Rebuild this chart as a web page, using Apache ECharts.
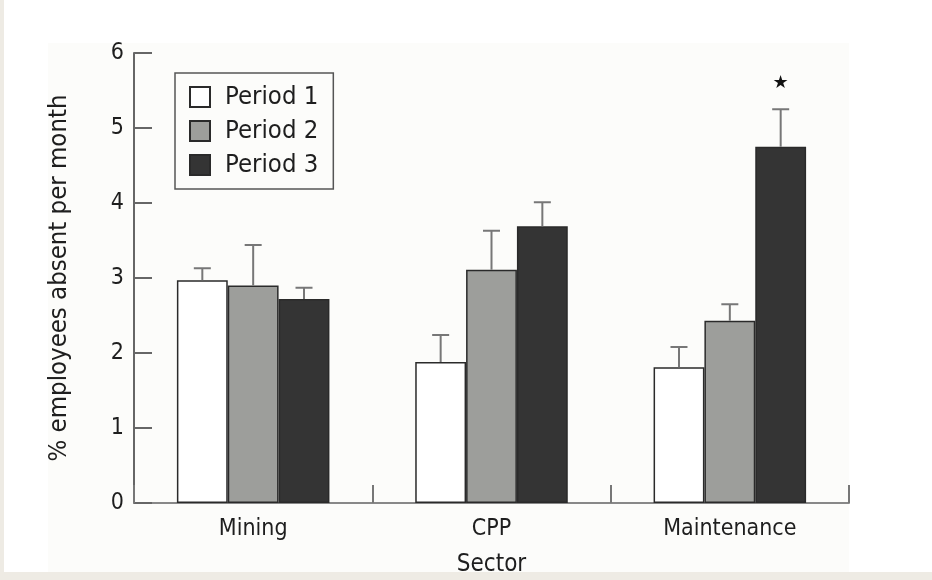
<!DOCTYPE html>
<html>
<head>
<meta charset="utf-8">
<script src="https://cdn.jsdelivr.net/npm/echarts@6/dist/echarts.min.js"></script>
<style>
html,body{margin:0;padding:0;background:#ffffff;}
#chart{width:932px;height:580px;}
</style>
</head>
<body>
<div id="chart"></div>
<script>
// ---- data ----
const categories = ['Mining', 'CPP', 'Maintenance'];
const seriesNames = ['Period 1', 'Period 2', 'Period 3'];
const period1 = [2.97, 1.88, 1.81];
const period2 = [2.90, 3.11, 2.43];
const period3 = [2.72, 3.69, 4.75];
// upper error bar lengths (SE)
const err1 = [0.16, 0.36, 0.27];
const err2 = [0.54, 0.52, 0.22];
const err3 = [0.15, 0.32, 0.50];
// significance markers (Period 3)
const sig3 = ['', '', '★'];
const yTicks = [0, 1, 2, 3, 4, 5, 6];

const FONT = '"DejaVu Sans Condensed", "DejaVu Sans", sans-serif';
const CAT_GAP = 0.36;

const values = [period1, period2, period3];
const errs = [err1, err2, err3];
const sigs = [['', '', ''], ['', '', ''], sig3];

const errData = [];
for (let k = 0; k < 3; k++) {
  for (let i = 0; i < categories.length; i++) {
    errData.push([i, values[k][i], errs[k][i], k, sigs[k][i]]);
  }
}

const barColors = ['#ffffff', '#9d9e9b', '#343434'];

const chart = echarts.init(document.getElementById('chart'), null, {renderer: 'canvas'});

const option = {
  backgroundColor: '#ffffff',
  animation: false,
  graphic: [
    {type: 'rect', z: -10, silent: true, shape: {x: 48, y: 43, width: 801, height: 529}, style: {fill: '#fcfcfa'}},
    {type: 'rect', z: -10, silent: true, shape: {x: 0, y: 0, width: 4, height: 580}, style: {fill: '#eeebe4'}},
    {type: 'rect', z: -10, silent: true, shape: {x: 0, y: 572, width: 932, height: 8}, style: {fill: '#eeebe4'}}
  ],
  grid: {left: 134, right: 83, top: 53, bottom: 77, containLabel: false, outerBoundsMode: 'none'},
  legend: {
    orient: 'vertical',
    left: 175,
    top: 73,
    padding: [11, 15, 11, 14],
    itemGap: 8,
    itemWidth: 20,
    itemHeight: 20,
    icon: 'rect',
    borderColor: '#555555',
    borderWidth: 1.5,
    data: seriesNames,
    textStyle: {fontFamily: FONT, fontSize: 25.5, lineHeight: 20, color: '#1e1e1e', padding: [0, 0, 0, 10]}
  },
  xAxis: {
    type: 'category',
    data: categories,
    boundaryGap: true,
    name: 'Sector',
    nameLocation: 'middle',
    nameGap: 50,
    nameTextStyle: {fontFamily: FONT, fontSize: 24, color: '#1e1e1e'},
    axisLine: {lineStyle: {color: '#888888', width: 2}},
    axisTick: {show: true, inside: true, length: 18, lineStyle: {color: '#777777', width: 2}},
    axisLabel: {fontFamily: FONT, fontSize: 23, color: '#1e1e1e', margin: 15},
    splitLine: {show: false}
  },
  yAxis: {
    type: 'value',
    min: yTicks[0],
    max: yTicks[yTicks.length - 1],
    interval: 1,
    name: '% employees absent per month',
    nameLocation: 'middle',
    nameGap: 62,
    nameTextStyle: {fontFamily: FONT, fontSize: 25.5, color: '#1e1e1e'},
    axisLine: {show: true, lineStyle: {color: '#666666', width: 2}},
    axisTick: {show: true, inside: true, length: 18, lineStyle: {color: '#666666', width: 2}},
    axisLabel: {fontFamily: FONT, fontSize: 23, color: '#1e1e1e', margin: 10},
    splitLine: {show: false}
  },
  series: [
    ...seriesNames.map((name, k) => ({
      name: name,
      type: 'bar',
      data: values[k],
      barGap: '0%',
      barCategoryGap: (CAT_GAP * 100) + '%',
      itemStyle: {color: barColors[k], borderColor: '#2a2a2a', borderWidth: 1.5},
      z: 2
    })),
    {
      type: 'custom',
      name: 'err',
      data: errData,
      z: 3,
      renderItem: function (params, api) {
        const ci = api.value(0), v = api.value(1), e = api.value(2), k = api.value(3);
        const mark = errData[params.dataIndex][4];
        const catW = api.size([1, 0])[0];
        const bw = catW * (1 - CAT_GAP) / 3;
        const base = api.coord([ci, v]);
        const x = base[0] + (k - 1) * bw;
        const top = api.coord([ci, v + e])[1];
        const cap = 17;
        const style = {stroke: '#777777', lineWidth: 2};
        const children = [
          {type: 'line', shape: {x1: x, y1: base[1], x2: x, y2: top}, style: style},
          {type: 'line', shape: {x1: x - cap / 2, y1: top, x2: x + cap / 2, y2: top}, style: style}
        ];
        if (mark) {
          children.push({
            type: 'text',
            style: {text: mark, x: x, y: top - 26, align: 'center', verticalAlign: 'middle',
                    fontSize: 18, fill: '#111111', fontFamily: 'DejaVu Sans'}
          });
        }
        return {type: 'group', children: children};
      }
    }
  ]
};
chart.setOption(option);
</script>
</body>
</html>
